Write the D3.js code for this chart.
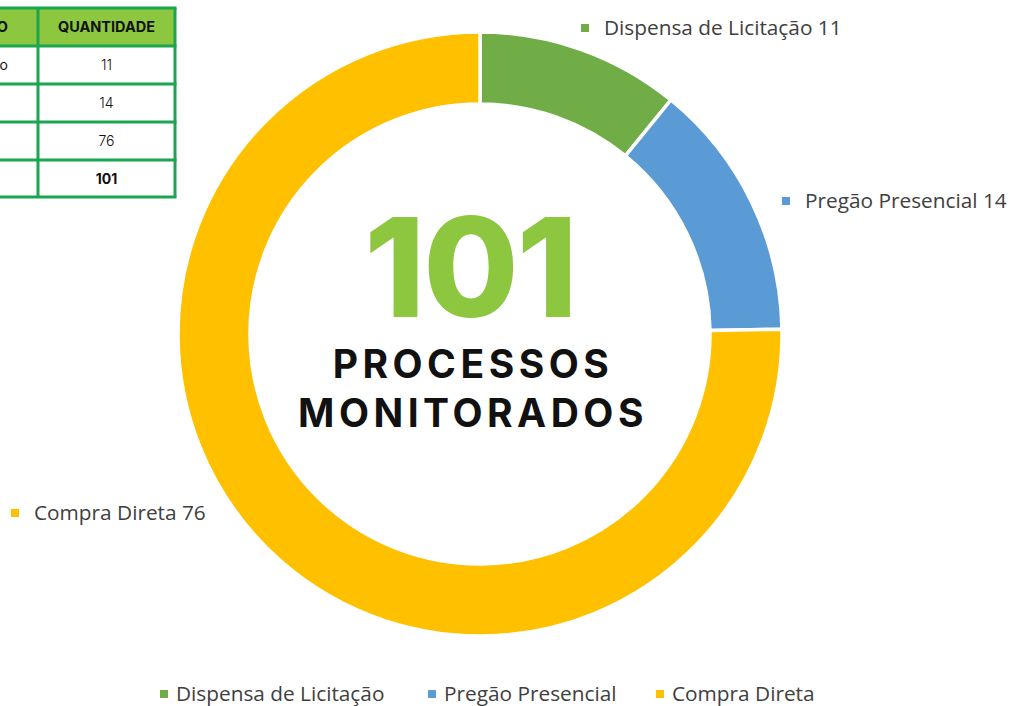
<!DOCTYPE html>
<html><head><meta charset="utf-8">
<script src="https://cdn.jsdelivr.net/npm/d3@7"></script>
<style>html,body{margin:0;padding:0;background:#fff;}svg{display:block;}</style>
</head><body>
<svg id="chart" width="1011" height="706"></svg>
<script>
const categories = ["Dispensa de Licitação", "Pregão Presencial", "Compra Direta"];
const values = [11, 14, 76];
const colors = ["#70ad47", "#5b9bd5", "#ffc000"];
const tableHeader = ["TIPO DE PROCESSO", "QUANTIDADE"];
const totalLabel = "TOTAL";
const centerLines = ["PROCESSOS", "MONITORADOS"];

const svg = d3.select("#chart");
const cx = 480, cy = 334, rOuter = 302, rInner = 230;
const total = d3.sum(values);

// donut
const pie = d3.pie().sort(null).value(d => d.v);
const arcs = pie(categories.map((c, i) => ({c, v: values[i], col: colors[i]})));
const arc = d3.arc().innerRadius(rInner).outerRadius(rOuter);
const g = svg.append("g").attr("transform", `translate(${cx},${cy})`);
g.selectAll("path").data(arcs).join("path")
  .attr("d", arc).attr("fill", d => d.data.col)
  .attr("stroke", "#fff").attr("stroke-width", 3.5);

// data labels
const labelFont = "'Open Sans', 'DejaVu Sans', sans-serif";
const labelPos = [[585, 28], [786, 201], [15, 513]];
arcs.forEach((d, i) => {
  const [x, y] = labelPos[i];
  svg.append("rect").attr("x", x - 4).attr("y", y - 4).attr("width", 8).attr("height", 8).attr("fill", d.data.col);
  svg.append("text").attr("x", x + 19).attr("y", y).attr("dy", "0.35em")
    .attr("font-family", labelFont).attr("font-size", 20.8).attr("fill", "#404040")
    .text(`${d.data.c} ${d.data.v}`);
});

// center text
svg.append("text").attr("x", cx - 10).attr("y", 317).attr("text-anchor", "middle")
  .attr("font-family", "Inter, sans-serif").attr("font-weight", 800).attr("font-size", 138)
  .attr("letter-spacing", -2)
  .attr("fill", "#8dc63f").text(total);
centerLines.forEach((t, i) => {
  svg.append("text").attr("x", cx - 7).attr("y", 378 + i * 49).attr("text-anchor", "middle")
    .attr("font-family", "Inter, sans-serif").attr("font-weight", 700).attr("font-size", 39)
    .attr("letter-spacing", 4.5)
    .attr("fill", "#111").text(t);
});

// bottom legend
const legX = [164, 432, 660];
categories.forEach((c, i) => {
  svg.append("rect").attr("x", legX[i] - 4).attr("y", 690).attr("width", 8).attr("height", 8).attr("fill", colors[i]);
  svg.append("text").attr("x", legX[i] + 12).attr("y", 694).attr("dy", "0.35em")
    .attr("font-family", labelFont).attr("font-size", 20.8).attr("fill", "#404040").text(c);
});

// table (partially cut off at left)
const rowsY = [8, 46, 84, 122, 160, 197];
const colX = [-200, 38, 175];
const tg = svg.append("g");
tg.append("rect").attr("x", colX[0]).attr("y", rowsY[0]).attr("width", colX[2] - colX[0]).attr("height", rowsY[1] - rowsY[0]).attr("fill", "#8dc63f");
const tableRows = [tableHeader].concat(categories.map((c, i) => [c, String(values[i])])).concat([[totalLabel, String(total)]]);
let firstColCenter = null;
tableRows.forEach((r, i) => {
  const y = (rowsY[i] + rowsY[i + 1]) / 2;
  const bold = i === 0 || i === tableRows.length - 1;
  const t0 = tg.append("text").attr("y", y).attr("dy", "0.36em")
    .attr("font-family", "Inter, sans-serif")
    .attr("font-weight", bold ? 700 : 400).attr("font-size", i === 0 ? 14.5 : 14).attr("fill", "#111").text(r[0]);
  if (i <= 1) {
    t0.attr("x", 8).attr("text-anchor", "end");
    if (i === 1) firstColCenter = 8 - t0.node().getComputedTextLength() / 2;
  } else {
    t0.attr("x", firstColCenter).attr("text-anchor", "middle");
  }
  tg.append("text").attr("x", (colX[1] + colX[2]) / 2).attr("y", y).attr("dy", "0.36em")
    .attr("text-anchor", "middle").attr("font-family", "Inter, sans-serif")
    .attr("font-weight", bold ? 700 : 300).attr("font-size", i === 0 ? 14.5 : 14).attr("fill", "#111").text(r[1]);
});
rowsY.forEach(y => tg.append("line").attr("x1", colX[0]).attr("x2", colX[2] + 1.5).attr("y1", y).attr("y2", y).attr("stroke", "#1aa550").attr("stroke-width", 3));
colX.forEach(x => tg.append("line").attr("x1", x).attr("x2", x).attr("y1", rowsY[0]).attr("y2", rowsY[rowsY.length - 1]).attr("stroke", "#1aa550").attr("stroke-width", 3));
</script>
</body></html>
